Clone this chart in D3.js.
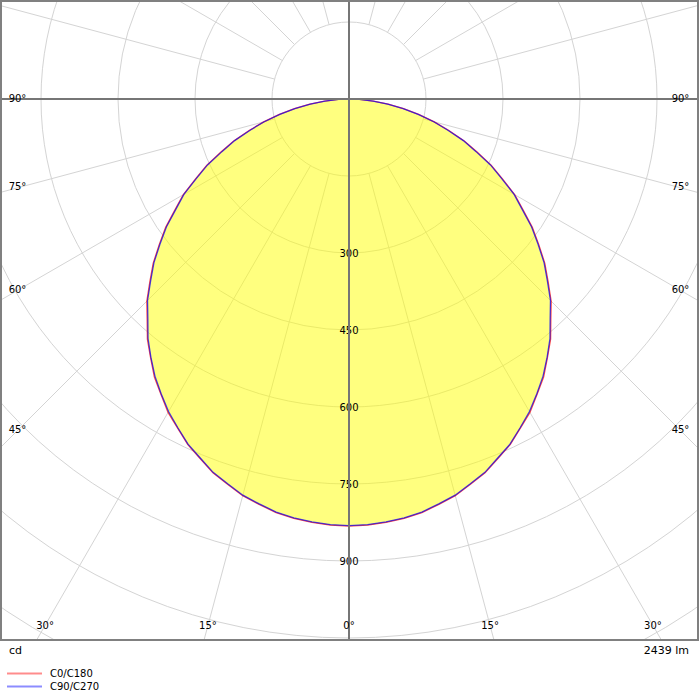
<!DOCTYPE html>
<html>
<head>
<meta charset="utf-8">
<script src="https://cdn.jsdelivr.net/npm/d3@7"></script>
<style>
  body { margin: 0; background: #fff; }
  svg text { font-family: "DejaVu Sans", sans-serif; fill: #000; }
</style>
</head>
<body>
<div class="canvas"></div>
<script>
// gamma angles (deg from nadir) and intensities in cd
var angles = [0,2.5,5,7.5,10,12.5,15,17.5,20,22.5,25,27.5,30,32.5,35,37.5,40,42.5,45,
              47.5,50,52.5,55,57.5,60,62.5,65,67.5,70,72.5,75,77.5,80,82.5,85,87.5,90];
var c0c180  = [832,831,828,824,818,809,800,787,775,758,743,723,705,682,661,635,611,582,557,
               526,498,466,436,402,373,337,306,270,239,204,172,139,108,77,48,21,0];
var c90c270 = [831,830,827,823,817,808,799,786,774,757,742,722,703,681,659,634,609,580,555,
               524,496,464,434,400,371,335,304,268,237,202,171,138,107,76,47,20,0];

var ringValues = [150,300,450,600,750,900,1050,1200,1350];
var ringLabels = [300,450,600,750,900];
var angleLabels = [0,15,30,45,60,75,90];

var series = [
    {name:'C0/C180', values:c0c180, color:'#ff0000'},
    {name:'C90/C270', values:c90c270, color:'#0000ff'}
];

var width = 700, height = 700;
var frame = {x:1, y:1, w:697, h:639};
var cx = 349, cy = 99;

var r = d3.scaleLinear().domain([0,150]).range([0,77]);

var svg = d3.select('.canvas')
    .append('svg')
    .attr('width',width)
    .attr('height',height);

svg.append('clipPath').attr('id','clip')
    .append('rect')
    .attr('x',frame.x).attr('y',frame.y)
    .attr('width',frame.w).attr('height',frame.h);

var plot = svg.append('g').attr('clip-path','url(#clip)');
var g = plot.append('g').attr('transform','translate('+cx+','+cy+')');

// rings
g.selectAll('.ring')
    .data(ringValues)
    .enter()
    .append('circle')
    .attr('r',function(d){ return r(d); })
    .style('fill','none')
    .style('stroke','#d4d4d4')
    .style('stroke-width',1);

// radial lines every 15 deg, starting at the first ring
var spokes = d3.range(0,360,15).filter(function(d){ return d % 90 != 0; });
g.selectAll('.spoke')
    .data(spokes)
    .enter()
    .append('line')
    .attr('x1',function(d){ return r(150)*Math.sin(d*Math.PI/180); })
    .attr('y1',function(d){ return r(150)*Math.cos(d*Math.PI/180); })
    .attr('x2',function(d){ return 1000*Math.sin(d*Math.PI/180); })
    .attr('y2',function(d){ return 1000*Math.cos(d*Math.PI/180); })
    .style('stroke','#d4d4d4')
    .style('stroke-width',1);

// main axes
plot.append('line')
    .attr('x1',0).attr('x2',width)
    .attr('y1',cy).attr('y2',cy)
    .style('stroke','#767676').style('stroke-width',2);
plot.append('line')
    .attr('x1',cx).attr('x2',cx)
    .attr('y1',0).attr('y2',height)
    .style('stroke','#767676').style('stroke-width',2);

// build closed path: right half from 90 to 0, then left half 0 to 90
function pts(values){
    var out = [];
    for(var i = angles.length-1; i>=0; i--){
        out.push([Math.PI - angles[i]*Math.PI/180, r(values[i])]);
    }
    for(var j = 1; j<angles.length; j++){
        out.push([Math.PI + angles[j]*Math.PI/180, r(values[j])]);
    }
    return out;
}

var radial = d3.lineRadial()
    .angle(function(d){ return d[0]; })
    .radius(function(d){ return d[1]; })
    .curve(d3.curveLinearClosed);

g.append('path')
    .attr('d',radial(pts(c0c180)))
    .style('fill','#ffff00')
    .style('fill-opacity',0.5)
    .style('stroke','none');

series.forEach(function(s){
    g.append('path')
        .attr('d',radial(pts(s.values)))
        .style('fill','none')
        .style('stroke',s.color)
        .style('stroke-opacity',0.7)
        .style('stroke-width',1.3);
});

// ring labels
g.selectAll('.rlabel')
    .data(ringLabels)
    .enter()
    .append('text')
    .attr('x',0)
    .attr('y',function(d){ return r(d); })
    .attr('dy','0.35em')
    .attr('text-anchor','middle')
    .style('font-size','10px')
    .text(function(d){ return d; });

// angle labels: on the side at x=17.5 from the edge, or on the bottom at y=625.5
var sideDx = cx - 17.5, bottomDy = 625.5 - cy;
angleLabels.forEach(function(a){
    var t = Math.tan(a*Math.PI/180);
    var pos;
    if(a > 0 && sideDx / t < bottomDy){
        pos = {dx: sideDx, dy: a == 90 ? -1 : sideDx / t - 1};
    } else {
        pos = {dx: bottomDy * t, dy: bottomDy};
    }
    [-1,1].forEach(function(side){
        if(a == 0 && side == 1) return;
        svg.append('text')
            .attr('x',cx + side*pos.dx)
            .attr('y',cy + pos.dy)
            .attr('dy','0.35em')
            .attr('text-anchor','middle')
            .style('font-size','10px')
            .text(a + '°');
    });
});

// frame
svg.append('rect')
    .attr('x',frame.x).attr('y',frame.y)
    .attr('width',frame.w).attr('height',frame.h)
    .style('fill','none')
    .style('stroke','#808080')
    .style('stroke-width',2);

svg.append('text')
    .attr('x',9).attr('y',654)
    .style('font-size','11px')
    .text('cd');
svg.append('text')
    .attr('x',689).attr('y',654)
    .attr('text-anchor','end')
    .style('font-size','11px')
    .text('2439 lm');

// legend
var legend = svg.selectAll('.legend')
    .data(series)
    .enter()
    .append('g')
    .attr('transform',function(d,i){ return 'translate(0,'+(673.5+i*13)+')'; });
legend.append('line')
    .attr('x1',7).attr('x2',42)
    .style('stroke',function(d){ return d.color; })
    .style('stroke-opacity',0.45)
    .style('stroke-width',2);
legend.append('text')
    .attr('x',50)
    .attr('dy','0.35em')
    .style('font-size','10px')
    .text(function(d){ return d.name; });
</script>
</body>
</html>
